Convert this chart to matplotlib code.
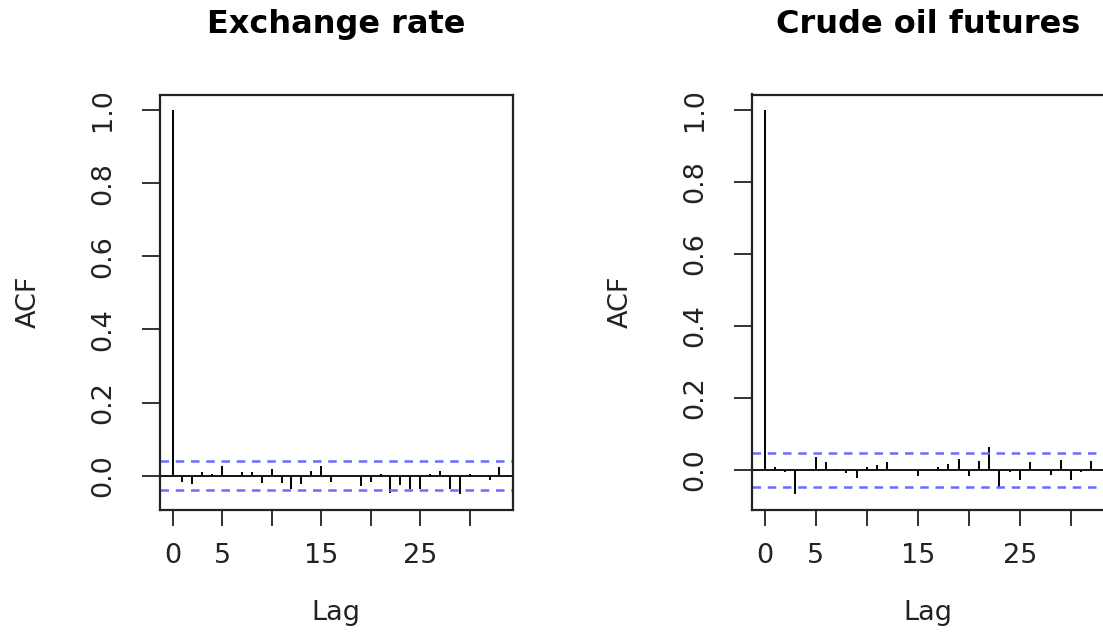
import numpy as np
import matplotlib
matplotlib.use("Agg")
import matplotlib.pyplot as plt

# ACF values
acf_fx = [1.0, -0.018, -0.021, 0.011, 0.006, 0.027, 0.001, 0.011, 0.011, -0.020,
          0.018, -0.020, -0.035, -0.021, 0.014, 0.027, -0.018, 0.0, 0.0, -0.027,
          -0.018, 0.006, -0.046, -0.025, -0.036, -0.035, 0.006, 0.014, -0.036, -0.050,
          0.004, 0.0, -0.012, 0.023]
acf_oil = [1.0, 0.008, -0.007, -0.068, 0.0, 0.034, 0.022, 0.001, -0.010, -0.024,
           0.008, 0.012, 0.022, 0.0, 0.0, -0.019, 0.0, 0.008, 0.016, 0.030,
           -0.019, 0.025, 0.062, -0.047, -0.007, -0.029, 0.020, 0.0, -0.015, 0.028,
           -0.029, -0.007, 0.025]
clim_fx = 0.0396
clim_oil = 0.047
titles = ["Exchange rate", "Crude oil futures"]
xticks = [0, 5, 10, 15, 20, 25, 30]
xticklabels = ["0", "5", "", "15", "", "25", ""]
yticks = [0.0, 0.2, 0.4, 0.6, 0.8, 1.0]

plt.rcParams['font.family'] = ['DejaVu Sans']

fig = plt.figure(figsize=(11.03, 6.38), dpi=100)
W, H = 1103, 638

def acf_panel(left_px, acf, clim, title):
    # box in pixels: top 94.5, bottom 509.5, width ~353
    ax = fig.add_axes([left_px / W, 1 - 509.5 / H, 353 / W, 415 / H])
    acf = np.asarray(acf)
    lags = np.arange(len(acf))
    ax.vlines(lags, 0, acf, color="black", lw=1.4)
    ax.axhline(0, color="black", lw=1.3)
    for c in (clim, -clim):
        ax.axhline(c, color="#6b6bff", lw=1.8, linestyle=(0, (3.4, 2.7)))
    # R style 4% axis expansion
    lo = min(acf.min(), -clim); hi = max(acf.max(), clim)
    d = (hi - lo) * 0.04
    ax.set_ylim(lo - d, hi + d)
    d = lags[-1] * 0.04
    ax.set_xlim(-d, lags[-1] + d)
    ax.set_xticks(xticks)
    ax.set_xticklabels(xticklabels)
    ax.set_yticks(yticks)
    ax.set_yticklabels([f"{v:.1f}" for v in yticks])
    for s in ax.spines.values():
        s.set_linewidth(1.6)
        s.set_color("#222222")
    ax.tick_params(axis="x", direction="out", length=11.2, width=1.3, pad=13,
                   labelsize=19.5, colors="#222222")
    ax.tick_params(axis="y", direction="out", length=13.2, width=1.3, pad=18,
                   labelsize=19.5, labelrotation=90, colors="#222222")
    for lab in ax.get_yticklabels():
        lab.set_va("center")
    ax.set_xlabel("Lag", fontsize=19.5, labelpad=22, color="#222222")
    ax.set_ylabel("ACF", fontsize=19.5, labelpad=35, color="#222222")
    cx = (left_px + 176.5) / W
    fig.text(cx, 1 - 33 / H, title, ha="center", va="baseline",
             fontsize=23, fontweight="bold", color="black")
    return ax

acf_panel(159.5, acf_fx, clim_fx, titles[0])
acf_panel(751.5, acf_oil, clim_oil, titles[1])

fig.savefig("out.png", dpi=100)
